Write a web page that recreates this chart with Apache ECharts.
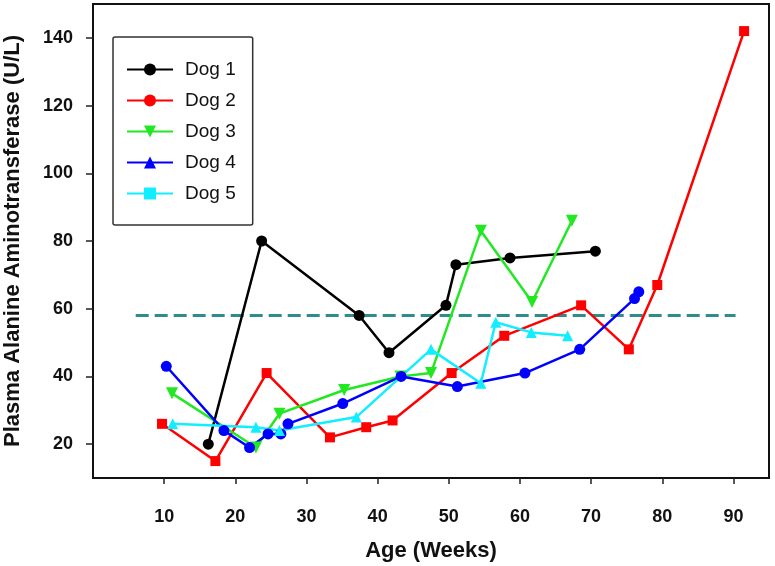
<!DOCTYPE html>
<html>
<head>
<meta charset="utf-8">
<script src="https://cdn.jsdelivr.net/npm/echarts@6/dist/echarts.min.js"></script>
<style>
  html, body { margin: 0; padding: 0; background: #fff; }
  #chart { width: 775px; height: 566px; }
</style>
</head>
<body>
<div id="chart"></div>
<script>
// ALT values by age (weeks)
const dog1X = [16.2, 23.7, 37.4, 41.6, 49.6, 51.0, 58.6, 70.6];
const dog1Y = [20, 80, 58, 47, 61, 73, 75, 77];
const dog2X = [9.7, 17.2, 24.4, 33.3, 38.4, 42.1, 50.4, 57.8, 68.6, 75.3, 79.3, 91.5];
const dog2Y = [26, 15, 41, 22, 25, 27, 41, 52, 61, 48, 67, 142];
const dog3X = [11.1, 22.9, 26.2, 35.3, 43.2, 47.5, 54.5, 61.7, 67.3];
const dog3Y = [35, 19, 29, 36, 40, 41, 83, 62, 86];
const dog4X = [10.3, 18.4, 22.0, 24.6, 26.4, 27.4, 35.1, 43.3, 51.2, 60.7, 68.4, 76.1, 76.7];
const dog4Y = [43, 24, 19, 23, 23, 26, 32, 40, 37, 41, 48, 63, 65];
const dog5X = [11.2, 22.9, 26.2, 37.0, 47.5, 54.5, 56.6, 61.6, 66.7];
const dog5Y = [26, 25, 24, 28, 48, 38, 56, 53, 52];

// upper reference limit (dashed)
const refX = [6, 90.3];
const refY = 58;

const xTicks = [10, 20, 30, 40, 50, 60, 70, 80, 90];
const yTicks = [20, 40, 60, 80, 100, 120, 140];

const FONT = "'Liberation Sans', Arial, sans-serif";

const zip = (xs, ys, sym) => xs.map((x, i) => ({ value: [x, ys[i]], symbol: sym }));

// legend symbol and plotted symbol differ in the original figure
const dogs = [
  { name: 'Dog 1', x: dog1X, y: dog1Y, color: '#000000', legendSym: 'circle', sym: 'circle', size: 11 },
  { name: 'Dog 2', x: dog2X, y: dog2Y, color: '#ff0000', legendSym: 'circle', sym: 'rect', size: 10 },
  { name: 'Dog 3', x: dog3X, y: dog3Y, color: '#22e822', legendSym: 'triangle', sym: 'triangle', size: 12, rotate: 180 },
  { name: 'Dog 4', x: dog4X, y: dog4Y, color: '#0000ff', legendSym: 'triangle', sym: 'circle', size: 11 },
  { name: 'Dog 5', x: dog5X, y: dog5Y, color: '#11eeff', legendSym: 'rect', sym: 'triangle', size: 11 }
];

const chart = echarts.init(document.getElementById('chart'));

const series = [
  {
    name: 'ref',
    type: 'line',
    data: refX.map(x => [x, refY]),
    symbol: 'none',
    lineStyle: { color: '#2f8c8c', width: 3, type: [13, 6] },
    silent: true,
    z: 1
  }
].concat(dogs.map(d => ({
  name: d.name,
  type: 'line',
  data: zip(d.x, d.y, d.sym),
  symbol: d.legendSym,
  symbolSize: d.size,
  symbolRotate: d.rotate || 0,
  color: d.color,
  itemStyle: { color: d.color },
  lineStyle: { color: d.color, width: 2.5 },
  z: 2
})));

chart.setOption({
  animation: false,
  textStyle: { fontFamily: FONT },
  grid: {
    left: 93, top: 4, right: 6, bottom: 88,
    outerBoundsMode: 'none',
    containLabel: false,
    show: true, borderColor: '#111', borderWidth: 2
  },
  legend: {
    data: dogs.map(d => d.name),
    orient: 'vertical',
    left: 113,
    top: 37,
    padding: [23, 17, 22, 13],
    borderColor: '#333',
    borderWidth: 1.5,
    borderRadius: 2,
    itemWidth: 46,
    itemHeight: 15,
    itemGap: 12,
    textStyle: { fontSize: 19, color: '#111', fontFamily: FONT, padding: [0, 0, 0, 7] }
  },
  xAxis: {
    type: 'value',
    min: 0,
    max: 95,
    name: 'Age (Weeks)',
    nameLocation: 'middle',
    nameGap: 62,
    nameTextStyle: { fontSize: 22, fontWeight: 'bold', color: '#111', fontFamily: FONT },
    axisLine: { show: false },
    axisTick: { show: true, length: 6, customValues: xTicks, lineStyle: { color: '#222', width: 1.5 } },
    axisLabel: { customValues: xTicks, margin: 30, fontSize: 18, fontWeight: 'bold', color: '#111' },
    splitLine: { show: false }
  },
  yAxis: {
    type: 'value',
    min: 10,
    max: 150,
    name: 'Plasma Alanine Aminotransferase (U/L)',
    nameLocation: 'middle',
    nameGap: 69,
    nameTextStyle: { fontSize: 22, fontWeight: 'bold', color: '#111', fontFamily: FONT },
    axisLine: { show: false },
    axisTick: { show: true, length: 7, customValues: yTicks, lineStyle: { color: '#222', width: 1.5 } },
    axisLabel: { customValues: yTicks, margin: 20, fontSize: 18, fontWeight: 'bold', color: '#111' },
    splitLine: { show: false }
  },
  series: series
});
</script>
</body>
</html>
